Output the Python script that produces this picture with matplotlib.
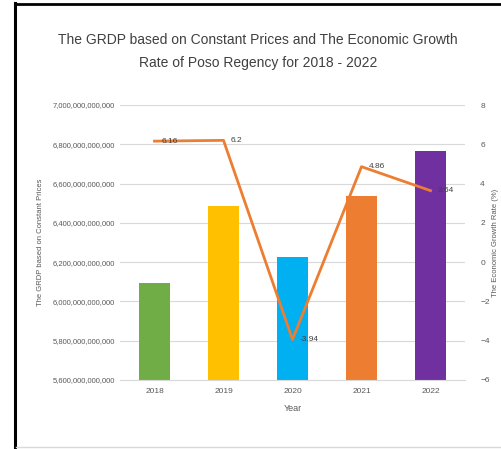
import matplotlib.pyplot as plt
from matplotlib.lines import Line2D
from matplotlib.ticker import FuncFormatter

# Data
years = ['2018', '2019', '2020', '2021', '2022']
grdp = [6.095e12, 6.485e12, 6.225e12, 6.535e12, 6.765e12]
growth = [6.16, 6.2, -3.94, 4.86, 3.64]
growth_labels = ['6.16', '6.2', '-3.94', '4.86', '3.64']
bar_colors = ['#70AD47', '#FFC000', '#00B0F0', '#ED7D31', '#7030A0']

plt.rcParams['font.family'] = ['Liberation Sans', 'DejaVu Sans']

W, H = 502, 449
fig = plt.figure(figsize=(W / 100, H / 100), dpi=100)

# Frame: black on left and top, light grey at the bottom
def fig_line(x0, y0, x1, y1, color, lw):
    fig.lines.append(Line2D([x0 / W, x1 / W], [1 - y0 / H, 1 - y1 / H],
                            transform=fig.transFigure, color=color, linewidth=lw))

fig_line(15, 3.5, 502, 3.5, 'black', 2)
fig_line(15, 3, 15, 449, 'black', 2.2)
fig_line(16, 446.5, 502, 446.5, '#d9d9d9', 1)

ax = fig.add_axes([120 / W, (H - 380) / H, 345 / W, 275 / H])
ax2 = ax.twinx()

x = list(range(len(years)))
ax.bar(x, grdp, width=0.45, color=bar_colors, zorder=2)
ax.set_ylim(5.6e12, 7.0e12)
ax.set_yticks([5.6e12 + i * 0.2e12 for i in range(8)])
ax.yaxis.set_major_formatter(FuncFormatter(lambda v, p: f'{v:,.0f}'))
ax.set_xlim(-0.5, 4.5)
ax.set_xticks(x)
ax.set_xticklabels(years)
ax.grid(axis='y', color='#d9d9d9', linewidth=0.8, zorder=0)
ax.set_axisbelow(True)

ax2.plot(x, growth, color='#ED7D31', linewidth=2, zorder=3)
ax2.set_ylim(-6, 8)
ax2.set_yticks(range(-6, 9, 2))
# data labels sit just right of each point, like Excel's "Right" position
for i, (g, lab) in enumerate(zip(growth, growth_labels)):
    ax2.text(i + 0.1, g, lab, fontsize=6, color='#404040', ha='left', va='center', zorder=4)

for a in (ax, ax2):
    for s in a.spines.values():
        s.set_visible(False)
    a.tick_params(length=0, labelsize=5.5, colors='#595959')
ax.spines['bottom'].set_visible(True)
ax.spines['bottom'].set_color('#d9d9d9')
ax.tick_params(axis='x', labelsize=6, pad=6)
ax2.tick_params(axis='y', labelsize=6, pad=11)

ax.set_xlabel('Year', fontsize=6.5, color='#595959', labelpad=6)
ax.set_ylabel('The GRDP based on Constant Prices', fontsize=5.5, color='#595959', labelpad=6)
ax2.set_ylabel('The Economic Growth Rate (%)', fontsize=5.5, color='#595959')
ax2.yaxis.set_label_coords((492 - 120) / 345, 0.5)

fig.text(258 / W, 1 - 40 / H, 'The GRDP based on Constant Prices and The Economic Growth',
         ha='center', va='center', fontsize=10, color='#404040')
fig.text(258 / W, 1 - 63 / H, 'Rate of Poso Regency for 2018 - 2022',
         ha='center', va='center', fontsize=10, color='#404040')

fig.savefig('out.png', dpi=100)
